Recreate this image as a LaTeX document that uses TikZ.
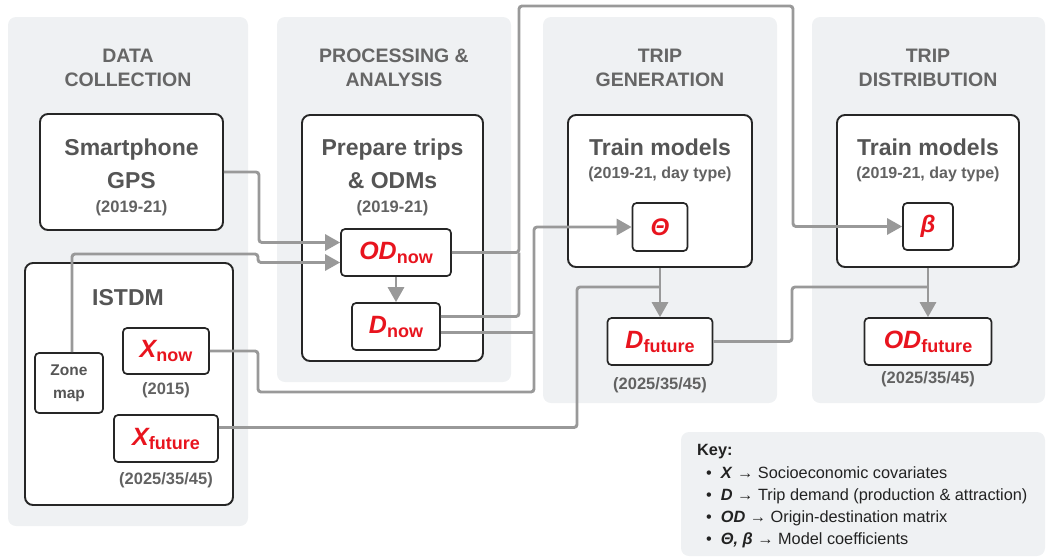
\documentclass[tikz,border=0pt]{standalone}
\usepackage{fontspec}
\setmainfont{Liberation Sans}
\usetikzlibrary{arrows.meta,positioning}

\definecolor{panelgray}{HTML}{EFF1F3}
\definecolor{linegray}{HTML}{999999}
\definecolor{edgegray}{HTML}{262626}
\definecolor{titlegray}{HTML}{666666}
\definecolor{textgray}{HTML}{555555}
\definecolor{yeargray}{HTML}{626262}
\definecolor{symred}{HTML}{E8141E}
\definecolor{keytext}{HTML}{222222}

\newcommand{\sym}[2]{{\color{symred}\bfseries\fontsize{25}{28}\selectfont\itshape #1\raisebox{-4pt}{\upshape\fontsize{18}{20}\selectfont #2}}}
\newcommand{\gsym}[1]{{\color{symred}\bfseries\itshape\fontsize{24}{26}\selectfont #1}}

\begin{document}
\begin{tikzpicture}[x=1pt,y=-1pt]
\tikzstyle{panel}=[fill=panelgray,rounded corners=8pt]
\tikzstyle{bigbox}=[draw=edgegray,line width=1.9pt,fill=white,rounded corners=8pt,inner sep=0pt]
\tikzstyle{smallbox}=[draw=edgegray,line width=1.7pt,fill=white,rounded corners=4pt,inner sep=0pt,minimum height=47pt]
\tikzstyle{phase}=[text=titlegray,font=\fontsize{19.5}{23}\selectfont\bfseries,anchor=base]
\tikzstyle{boxtitle}=[text=textgray,font=\fontsize{23}{28}\selectfont\bfseries,anchor=base]
\tikzstyle{years}=[text=yeargray,font=\fontsize{16.5}{20}\selectfont\bfseries,anchor=base]
\tikzstyle{keyrow}=[text=keytext,font=\fontsize{16.3}{20}\selectfont,anchor=base west,inner sep=0pt]
\tikzstyle{wire}=[draw=linegray,line width=2.9pt,rounded corners=3pt]
\tikzstyle{wirearrow}=[wire,-{Triangle[length=15pt,width=16pt]}]

\useasboundingbox (0,0) rectangle (1060,558);
\fill[panel] (8,17) rectangle (248,526);
\fill[panel] (277,17) rectangle (511,382);
\fill[panel] (543,17) rectangle (777,403);
\fill[panel] (812,17) rectangle (1045,403);
\fill[panel] (681,432) rectangle (1045,556);

\node[phase] (colla) at (128,62) {DATA};
\node[phase] (collb) at (128,86) {COLLECTION};
\node[phase] (proca) at (394,62) {PROCESSING \&};
\node[phase] (procb) at (394,86) {ANALYSIS};
\node[phase] (gena) at (660,62) {TRIP};
\node[phase] (genb) at (660,86) {GENERATION};
\node[phase] (dista) at (928,62) {TRIP};
\node[phase] (distb) at (928,86) {DISTRIBUTION};

\node[bigbox,minimum width=183pt,minimum height=116pt] (gps) at (131.5,172) {};
\node[bigbox,minimum width=181pt,minimum height=246pt] (prep) at (392.5,238) {};
\node[bigbox,minimum width=208pt,minimum height=242pt] (istdm) at (129,384) {};
\node[bigbox,minimum width=184pt,minimum height=152pt] (traingen) at (660,191) {};
\node[bigbox,minimum width=182pt,minimum height=152pt] (traindist) at (928,191) {};

\node[boxtitle] (gpsa) at (131.5,155) {Smartphone};
\node[boxtitle] (gpsb) at (131.5,188) {GPS};
\node[years] (gpsc) at (131.5,212) {(2019-21)};
\node[boxtitle] (prepa) at (392.5,155) {Prepare trips};
\node[boxtitle] (prepb) at (392.5,188) {\& ODMs};
\node[years] (prepc) at (392.5,212) {(2019-21)};
\node[boxtitle] (istdmname) at (128,305) {ISTDM};
\node[boxtitle] (traingena) at (660,155) {Train models};
\node[years,font=\fontsize{16}{20}\selectfont\bfseries] (traingenb) at (660,178) {(2019-21, day type)};
\node[boxtitle] (traindista) at (928,155) {Train models};
\node[years,font=\fontsize{16}{20}\selectfont\bfseries] (traindistb) at (928,178) {(2019-21, day type)};

\node[smallbox,minimum width=110pt] (odnow) at (396,252.5) {\sym{OD}{now}};
\node[smallbox,minimum width=88pt] (dnow) at (396,326.5) {\sym{D}{now}};
\node[smallbox,minimum width=86pt,minimum height=46pt] (xnow) at (166,351) {\sym{X}{now}};
\node[smallbox,minimum width=104pt] (xfut) at (166,438.5) {\sym{X}{future}};
\node[smallbox,minimum width=68pt,minimum height=60pt,align=center,text=textgray,font=\fontsize{15.5}{23}\selectfont\bfseries] (zone) at (69,383) {Zone\\map};
\node[smallbox,minimum width=55pt,minimum height=48pt] (theta) at (660,227) {\gsym{Θ}};
\node[smallbox,minimum width=50pt] (beta) at (928,226.5) {\gsym{β}};
\node[smallbox,minimum width=105pt] (dfut) at (660,341.5) {\sym{D}{future}};
\node[smallbox,minimum width=127pt] (odfut) at (928,341.5) {\sym{OD}{future}};

\node[years] (xnowyr) at (166,394) {(2015)};
\node[years] (xfutyr) at (166,484) {(2025/35/45)};
\node[years] (dfutyr) at (660,389) {(2025/35/45)};
\node[years] (odfutyr) at (928,383) {(2025/35/45)};

\coordinate (jbeta) at (519,252.5);
\coordinate (jtheta) at (534,332.5);
\coordinate (jgen) at (660,287);
\coordinate (jdist) at (928,287);

\draw[wirearrow] (gps.east) -- ++(35,0) |- ([yshift=10pt]odnow.west);
\draw[wirearrow] ([xshift=3pt]zone.north) |- (258,254) |- ([yshift=-10pt]odnow.west);
\draw[wirearrow] (odnow.south) -- (dnow.north);
\draw[wirearrow] (odnow.east) -| (519,6) -- (793,6) |- (beta.west);
\draw[wire] ([yshift=10pt]dnow.east) -| (jbeta);
\draw[wirearrow] (xnow.east) -| (258,392) -- (534,392) |- (theta.west);
\draw[wire] ([yshift=-6pt]dnow.east) -- (jtheta);
\draw[wire] ([yshift=11pt]xfut.east) -| (577,287) -- (jgen);
\draw[wirearrow] (traingen.south) -- (dfut.north);
\draw[wire] (dfut.east) -| (792,287) -- (jdist);
\draw[wirearrow] (traindist.south) -- (odfut.north);

\node[keyrow,font=\fontsize{16.3}{20}\selectfont\bfseries] (keyhead) at (697,455) {Key:};
\node[keyrow] (keyx) at (706,478) {•\hspace{9pt}\textbf{\textit{X}} → Socioeconomic covariates};
\node[keyrow] (keyd) at (706,500) {•\hspace{9pt}\textbf{\textit{D}} → Trip demand (production \& attraction)};
\node[keyrow] (keyod) at (706,522) {•\hspace{9pt}\textbf{\textit{OD}} → Origin-destination matrix};
\node[keyrow] (keyc) at (706,544) {•\hspace{9pt}\textbf{\textit{Θ, β}} → Model coefficients};
\end{tikzpicture}
\end{document}
